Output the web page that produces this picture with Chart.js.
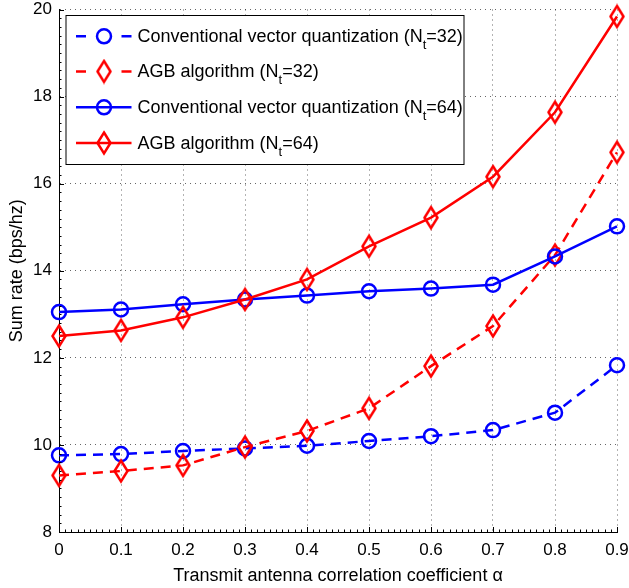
<!DOCTYPE html>
<html>
<head>
<meta charset="utf-8">
<script src="https://cdn.jsdelivr.net/npm/chart.js@4.4.1/dist/chart.umd.min.js"></script>
<style>
  html, body { margin: 0; padding: 0; background: #fff; }
  canvas { display: block; }
</style>
</head>
<body>
<canvas id="chartSumRate" width="629" height="588"></canvas>
<script>
// Sum rate vs transmit antenna correlation coefficient
const alphaValues = [0, 0.1, 0.2, 0.3, 0.4, 0.5, 0.6, 0.7, 0.8, 0.9];
const cvq32 = [9.76, 9.79, 9.86, 9.92, 9.98, 10.09, 10.20, 10.34, 10.74, 11.83];
const agb32 = [9.30, 9.40, 9.53, 9.95, 10.32, 10.84, 11.81, 12.73, 14.36, 16.72];
const cvq64 = [13.05, 13.11, 13.23, 13.34, 13.43, 13.53, 13.59, 13.68, 14.33, 15.02];
const agb64 = [12.50, 12.63, 12.93, 13.34, 13.80, 14.56, 15.22, 16.16, 17.64, 19.84];
const seriesLabels = [
  "Conventional vector quantization (N_t=32)",
  "AGB algorithm (N_t=32)",
  "Conventional vector quantization (N_t=64)",
  "AGB algorithm (N_t=64)"
];
const xTitle = "Transmit antenna correlation coefficient α";
const yTitle = "Sum rate (bps/hz)";

const FONT = "'Liberation Sans', Arial, Helvetica, sans-serif";
Chart.defaults.font.family = FONT;
Chart.defaults.color = "#000";

// diamond marker, taller than wide
function diamond(color) {
  const c = document.createElement("canvas");
  c.width = 18; c.height = 26;
  const g = c.getContext("2d");
  g.strokeStyle = color;
  g.lineWidth = 2.5;
  g.beginPath();
  g.moveTo(9, 2.5); g.lineTo(15.5, 13); g.lineTo(9, 23.5); g.lineTo(2.5, 13);
  g.closePath();
  g.stroke();
  return c;
}
const redDiamond = diamond("#ff0000");

const pts = vals => alphaValues.map((a, i) => ({ x: a, y: vals[i] }));
const dash = [10, 7];

function serie(label, vals, color, dashed, marker, order) {
  return {
    label: label,
    data: pts(vals),
    borderColor: color,
    borderWidth: 2.5,
    borderDash: dashed ? dash : [],
    pointStyle: marker === "o" ? "circle" : redDiamond,
    pointRadius: 7,
    pointHoverRadius: 7,
    pointBorderWidth: 2.5,
    pointBorderColor: color,
    pointBackgroundColor: "rgba(0,0,0,0)",
    tension: 0,
    clip: false,
    order: order,
    _dashed: dashed,
    _marker: marker
  };
}

// legend box drawn inside plot, with subscript t
const boxLegend = {
  id: "boxLegend",
  afterDraw(chart) {
    const ctx = chart.ctx;
    const x0 = 66, y0 = 15.5, x1 = 464, y1 = 164.5;
    const rows = [36.3, 71.5, 107.3, 143];
    ctx.save();
    ctx.fillStyle = "#fff";
    ctx.fillRect(x0, y0, x1 - x0, y1 - y0);
    ctx.strokeStyle = "#000";
    ctx.lineWidth = 1;
    ctx.strokeRect(x0, y0, x1 - x0, y1 - y0);
    chart.data.datasets.forEach((ds, i) => {
      const y = rows[i];
      ctx.strokeStyle = ds.borderColor;
      ctx.lineWidth = 2.5;
      ctx.setLineDash([]);
      ctx.beginPath();
      if (ds._dashed) {
        ctx.moveTo(76, y); ctx.lineTo(86, y);
        ctx.moveTo(121.5, y); ctx.lineTo(131.5, y);
      } else {
        ctx.moveTo(76, y); ctx.lineTo(131.5, y);
      }
      ctx.stroke();
      if (ds._marker === "o") {
        ctx.beginPath();
        ctx.arc(104, y, 7, 0, Math.PI * 2);
        ctx.stroke();
      } else {
        ctx.drawImage(redDiamond, 104 - 9, y - 13);
      }
      const parts = ds.label.split("_t");
      ctx.fillStyle = "#000";
      ctx.textBaseline = "alphabetic";
      ctx.font = "18px " + FONT;
      let tx = 137.5;
      ctx.fillText(parts[0], tx, y + 5.5);
      tx += ctx.measureText(parts[0]).width;
      ctx.font = "13px " + FONT;
      ctx.fillText("t", tx, y + 12.5);
      tx += ctx.measureText("t").width;
      ctx.font = "18px " + FONT;
      ctx.fillText(parts[1], tx, y + 5.5);
    });
    ctx.restore();
  }
};

// inward major and minor ticks like the original axes
const innerTicks = {
  id: "innerTicks",
  afterDraw(chart) {
    const ctx = chart.ctx;
    const xs = chart.scales.x, ys = chart.scales.y;
    const a = chart.chartArea;
    ctx.save();
    ctx.strokeStyle = "#000";
    ctx.lineWidth = 1;
    ctx.beginPath();
    for (let k = 0; k <= 90; k++) {
      const px = Math.round(xs.getPixelForValue(k / 100)) + 0.5;
      const len = k % 10 === 0 ? 5 : 2.5;
      ctx.moveTo(px, a.bottom); ctx.lineTo(px, a.bottom - len);
    }
    for (let k = 0; k <= 60; k++) {
      const py = Math.round(ys.getPixelForValue(8 + k * 0.2)) + 0.5;
      const len = k % 10 === 0 ? 5 : 2.5;
      ctx.moveTo(a.left, py); ctx.lineTo(a.left + len, py);
    }
    ctx.stroke();
    ctx.restore();
  }
};

new Chart(document.getElementById("chartSumRate"), {
  type: "line",
  data: {
    datasets: [
      serie(seriesLabels[0], cvq32, "#0000ff", true, "o", 3),
      serie(seriesLabels[1], agb32, "#ff0000", true, "d", 2),
      serie(seriesLabels[2], cvq64, "#0000ff", false, "o", 1),
      serie(seriesLabels[3], agb64, "#ff0000", false, "d", 0)
    ]
  },
  options: {
    responsive: false,
    devicePixelRatio: 1,
    animation: false,
    layout: { padding: { top: 9, right: 12, left: 0, bottom: 0 } },
    plugins: {
      legend: { display: false },
      tooltip: { enabled: false }
    },
    scales: {
      x: {
        type: "linear",
        min: 0,
        max: 0.9,
        afterFit(s) { s.height = 56; s.paddingLeft = 0; s.paddingRight = 0; },
        ticks: { stepSize: 0.1, font: { size: 17 }, padding: 8, maxRotation: 0 },
        grid: { color: "rgba(0,0,0,0.6)", drawTicks: false },
        border: { display: true, color: "#000", width: 1, dash: [1, 4] },
        title: { display: true, text: xTitle, font: { size: 18 }, padding: { top: 0, bottom: 1 } }
      },
      y: {
        type: "linear",
        min: 8,
        max: 20,
        afterFit(s) { s.width = 59; s.paddingTop = 0; s.paddingBottom = 0; },
        ticks: { stepSize: 2, font: { size: 17 }, padding: 7 },
        grid: { color: "rgba(0,0,0,0.6)", drawTicks: false },
        border: { display: true, color: "#000", width: 1, dash: [1, 4] },
        title: { display: true, text: yTitle, font: { size: 18 }, padding: { top: 6, bottom: 0 } }
      }
    }
  },
  plugins: [innerTicks, boxLegend]
});
</script>
</body>
</html>
